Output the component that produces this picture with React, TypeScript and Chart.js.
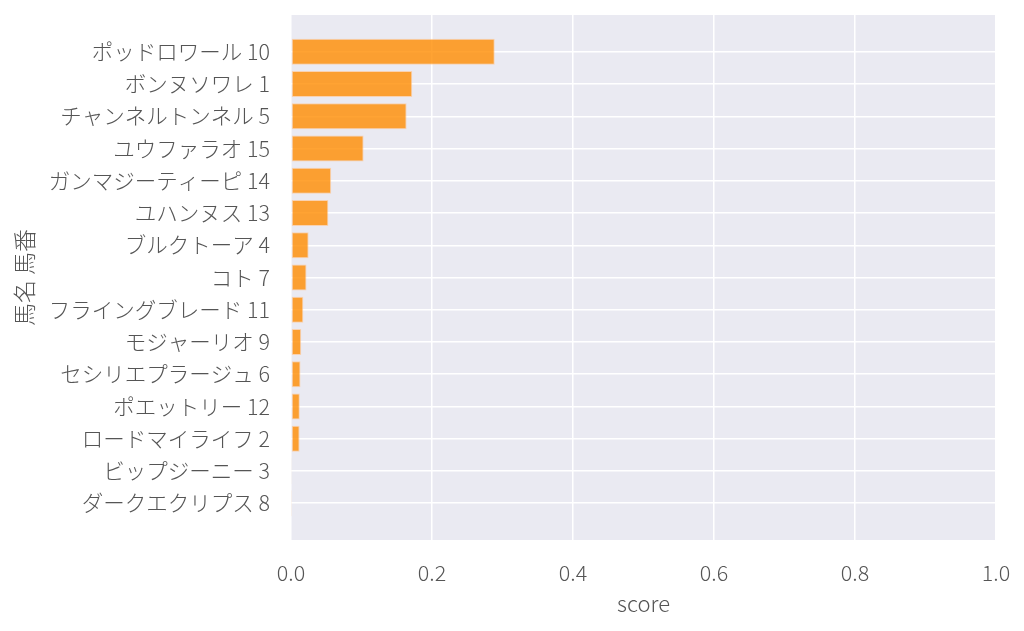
import React, { useEffect, useRef } from 'react';
import { Chart, registerables } from 'chart.js';

Chart.register(...registerables);

const horses = [
  'ポッドロワール 10',
  'ボンヌソワレ 1',
  'チャンネルトンネル 5',
  'ユウファラオ 15',
  'ガンマジーティーピ 14',
  'ユハンヌス 13',
  'ブルクトーア 4',
  'コト 7',
  'フライングブレード 11',
  'モジャーリオ 9',
  'セシリエプラージュ 6',
  'ポエットリー 12',
  'ロードマイライフ 2',
  'ビップジーニー 3',
  'ダークエクリプス 8',
];
const scores = [0.289, 0.172, 0.164, 0.103, 0.057, 0.053, 0.025, 0.022, 0.0175, 0.0145, 0.0135, 0.0125, 0.0122, 0.0015, 0.0005];
const xTicks = [0, 0.2, 0.4, 0.6, 0.8, 1.0];

const FONT = "'Noto Sans CJK JP', 'Noto Sans', sans-serif";
const TEXT = '#555555';

// plot background like seaborn darkgrid
const bgPlugin = {
  id: 'plotBg',
  beforeDraw(chart: any) {
    const { ctx, chartArea } = chart;
    ctx.save();
    ctx.fillStyle = '#EAEAF2';
    ctx.fillRect(chartArea.left, chartArea.top, chartArea.right - chartArea.left, chartArea.bottom - chartArea.top);
    ctx.restore();
  },
};

export default function App() {
  const canvasRef = useRef<HTMLCanvasElement>(null);
  const chartRef = useRef<Chart | null>(null);

  useEffect(() => {
    document.body.style.margin = '0';
    if (!canvasRef.current) return;
    if (chartRef.current) chartRef.current.destroy();

    chartRef.current = new Chart(canvasRef.current, {
      type: 'bar',
      data: {
        datasets: [
          {
            data: scores.map((s, i) => ({ x: s, y: i })),
            backgroundColor: 'rgba(255,140,0,0.8)',
            borderColor: 'rgba(255,200,150,0.7)',
            borderWidth: 1,
            borderSkipped: false,
            barPercentage: 0.8,
            categoryPercentage: 1,
          },
        ],
      },
      options: {
        indexAxis: 'y',
        animation: false,
        responsive: false,
        layout: { padding: { top: 15, right: 28, left: 0, bottom: 0 } },
        plugins: { legend: { display: false }, tooltip: { enabled: false } },
        scales: {
          x: {
            type: 'linear',
            min: 0,
            max: 1,
            afterBuildTicks: (scale: any) => {
              scale.ticks = xTicks.map((v) => ({ value: v }));
            },
            afterFit: (scale: any) => {
              scale.height = 91;
              scale.paddingLeft = 0;
              scale.paddingRight = 0;
            },
            border: { display: false },
            grid: { color: '#ffffff', lineWidth: 1.5, drawTicks: false },
            ticks: {
              padding: 20,
              color: TEXT,
              font: { family: FONT, size: 21.5, weight: 300 },
              callback: (v: any) => Number(v).toFixed(1),
            },
            title: {
              display: true,
              text: 'score',
              color: TEXT,
              font: { family: FONT, size: 22, weight: 300 },
              padding: { top: 0, bottom: 14 },
            },
          },
          y: {
            type: 'linear',
            reverse: true,
            offset: false,
            min: -1.14,
            max: horses.length - 1 + 1.14,
            afterBuildTicks: (scale: any) => {
              scale.ticks = horses.map((_, i) => ({ value: i }));
            },
            afterFit: (scale: any) => {
              scale.width = 291;
              scale.paddingTop = 0;
              scale.paddingBottom = 0;
            },
            border: { display: false },
            grid: { color: '#ffffff', lineWidth: 1.5, drawTicks: false, offset: false },
            ticks: {
              padding: 21,
              color: TEXT,
              autoSkip: false,
              font: { family: FONT, size: 21.5, weight: 300 },
              callback: (v: any) => horses[Number(v)] ?? '',
            },
            title: {
              display: true,
              text: '馬名 馬番',
              color: TEXT,
              font: { family: FONT, size: 23, weight: 300 },
              padding: { top: 10, bottom: 0 },
            },
          },
        },
      },
      plugins: [bgPlugin],
    });

    return () => {
      if (chartRef.current) {
        chartRef.current.destroy();
        chartRef.current = null;
      }
    };
  }, []);

  return (
    <div style={{ width: 1024, height: 631 }}>
      <canvas ref={canvasRef} width={1024} height={631} />
    </div>
  );
}
